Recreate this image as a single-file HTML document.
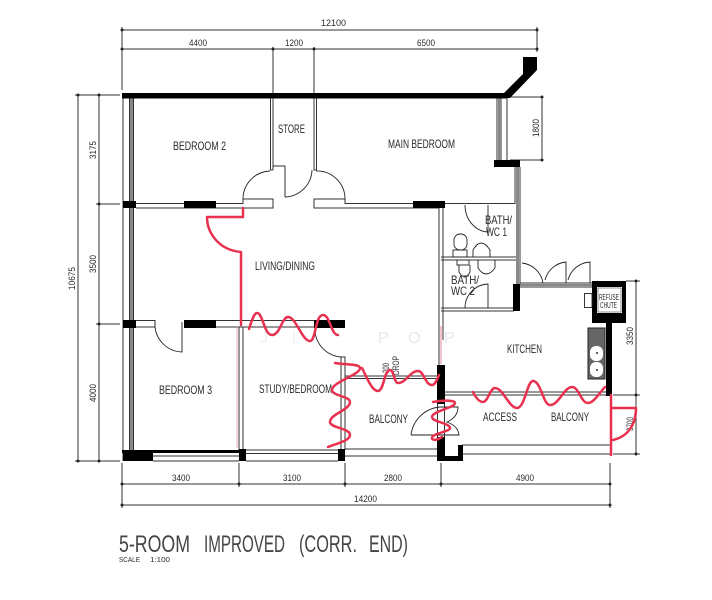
<!DOCTYPE html>
<html><head><meta charset="utf-8"><style>
html,body{margin:0;padding:0;background:#fff}
svg{display:block}
text{font-family:"Liberation Sans",sans-serif;fill:#2a2a2a}
.d{font-size:9.500px}
.l{font-size:12px}
</style></head><body>
<svg width="712" height="600" viewBox="0 0 712 600" xmlns="http://www.w3.org/2000/svg">
<!-- dimensions -->
<g stroke="#333" stroke-width="1" fill="none">
<path d="M122 30H537M122 49H537M122 27V90M273 47V94M314 47V94M537 27V52"/>
<path d="M78 95V461M99 95V461M75 95H120M75 461H120M96 204H120M96 324H120"/>
<path d="M122 484H610M122 505H610M122 463V508M239 463V487M345 463V487M441 463V487M610 463V508"/>
<path d="M510 97H543M510 160H543M542 97V160"/>
<path d="M626 281H640M636 281V454M613 395H640M613 454H640"/>
</g>
<g fill="#222">
<circle cx="122" cy="30" r="1.500"/><circle cx="537" cy="30" r="1.500"/><circle cx="122" cy="49" r="1.500"/><circle cx="273" cy="49" r="1.500"/><circle cx="314" cy="49" r="1.500"/><circle cx="537" cy="49" r="1.500"/>
<circle cx="78" cy="95" r="1.500"/><circle cx="99" cy="95" r="1.500"/><circle cx="99" cy="204" r="1.500"/><circle cx="99" cy="324" r="1.500"/><circle cx="78" cy="461" r="1.500"/><circle cx="99" cy="461" r="1.500"/>
<circle cx="122" cy="484" r="1.500"/><circle cx="239" cy="484" r="1.500"/><circle cx="345" cy="484" r="1.500"/><circle cx="441" cy="484" r="1.500"/><circle cx="610" cy="484" r="1.500"/><circle cx="122" cy="505" r="1.500"/><circle cx="610" cy="505" r="1.500"/>
<circle cx="542" cy="97" r="1.500"/><circle cx="542" cy="160" r="1.500"/><circle cx="636" cy="281" r="1.500"/><circle cx="636" cy="395" r="1.500"/><circle cx="636" cy="454" r="1.500"/>
</g>
<!-- walls: grey/double -->
<g stroke="#333" stroke-width="1" fill="none">
<path d="M123 98V461"/>
<path d="M129.500 98V450M133.500 98V450"/>
<path d="M136 203.500H243V199H273V208H136"/>
<path d="M439 208H314V199H345V203.500H515"/>
<path d="M270.500 98V170H273M273 98V170M314 98V170H316.500M316.500 98V170M273 166H285V197"/>
<path d="M136 320.500H155V327H136M216 320.500H345M216 327H345"/>
<path d="M239 327V450M243 327V450"/>
<path d="M341 357H345V450M341 357V450"/>
<path d="M497 98V160M501 98V160M507 98V160"/>
<path d="M515 167V204M520 167V285"/>
<path d="M439 208V365M443 208V340"/>
<path d="M441 257H516M441 260H516M441 308H514M441 311H514"/>
<path d="M520 283H592M520 287H592"/>
<path d="M443 392H606M443 395H606"/>
<path d="M345 376H438M345 378.500H438"/>
<path d="M345 449H438M345 456H438"/>
<path d="M462 445H610M462 454H610"/>
<path d="M246 450H338M246 453.500H338M246 461H338M153 461H239"/>
<path d="M437.500 404V437M444.500 404V437"/>
</g>
<path d="M153 456H239" stroke="#777" stroke-width="1.500"/>
<g fill="#888"><rect x="130" y="98" width="3" height="352"/><rect x="498" y="98" width="3" height="62"/><rect x="516" y="167" width="3" height="117"/><rect x="520" y="284" width="72" height="2"/></g>
<!-- black -->
<g fill="#000">
<rect x="122" y="93" width="385" height="5.500"/>
<polygon points="504,93 523,74 523,57 537,57 537,70 510,98 504,98"/>
<rect x="494" y="160" width="26" height="7"/>
<rect x="123" y="201" width="13" height="7"/><rect x="184" y="201" width="32" height="7"/><rect x="413" y="201" width="32" height="7"/>
<rect x="123" y="320" width="13" height="8"/><rect x="184" y="320" width="32" height="8"/><rect x="314" y="320" width="31" height="8"/>
<rect x="122" y="450" width="121" height="3"/><rect x="123" y="450" width="30" height="11"/>
<rect x="239" y="449" width="7" height="12"/><rect x="338" y="449" width="7" height="12"/>
<rect x="513" y="284" width="7" height="27"/>
<rect x="592" y="281" width="34" height="42"/>
<rect x="606" y="323" width="6" height="73"/>
<rect x="437" y="365" width="8" height="39"/>
<rect x="437" y="437" width="8" height="24"/>
<rect x="437" y="456" width="26" height="5"/>
<rect x="458" y="445" width="5" height="16"/>
</g>
<rect x="597" y="287" width="25" height="26" fill="#fff"/>
<!-- doors -->
<g stroke="#222" stroke-width="0.900" fill="none">
<path d="M243 199A28 28 0 0 1 270 171"/>
<path d="M285 197A28 28 0 0 0 312 170"/>
<path d="M316 171A28 28 0 0 1 345 199"/>
<path d="M155 322A28 28 0 0 0 182 352V322"/>
<path d="M315 330A28 28 0 0 0 342 357"/>
<path d="M465 205A24 27 0 0 0 488 232V205"/>
<path d="M465 308A24 24 0 0 1 488 284V308"/>
<path d="M522 263A24 24 0 0 1 543 283M545 280A24 24 0 0 1 566 262V283M568 280A24 24 0 0 1 590 262V283"/>
<path d="M411 435A32 32 0 0 1 440 407H458Q458 417 447 422Q458 426 459 435H411"/>
<!-- toilets -->
<rect x="454" y="234" width="13" height="16" rx="6"/><rect x="453" y="250" width="14" height="7"/>
<rect x="457" y="260" width="12" height="5"/><path d="M459 265V272Q465 282 470 272V265"/>
<path d="M473 257V250Q481 236 490 250V257"/><path d="M478 260V268Q486 280 495 268V260"/>
<rect x="584.500" y="293.500" width="7.500" height="14"/>
<path d="M598 288H621V312H598Z" stroke-width="0.500"/>
</g>
<g>
<rect x="588" y="328" width="17" height="51" fill="#666" stroke="#222"/>
<rect x="590" y="346" width="13" height="15" rx="6" fill="#fff"/>
<rect x="590" y="362" width="13" height="15" rx="6" fill="#fff"/>
<circle cx="597" cy="353" r="1" fill="#333"/><circle cx="597" cy="370" r="1" fill="#333"/>
</g>
<!-- pink -->
<path d="M237 327V448" stroke="#eab0ba" stroke-width="1" fill="none"/>
<path d="M441 326V364" stroke="#e88a9c" stroke-width="1" fill="none"/>
<!-- watermark -->
<g style="font-size:16px"><text x="378" y="343" style="fill:#e6e9eb">P</text><text x="408" y="343" style="fill:#e6e9eb">O</text><text x="444" y="343" style="fill:#e6e9eb">P</text><text x="260" y="343" style="fill:#eef0f2">J</text><text x="292" y="343" style="fill:#eef0f2">L</text></g>
<!-- dimension text -->
<g>
<text class="d" x="321" y="26" textLength="25" lengthAdjust="spacingAndGlyphs">12100</text>
<text class="d" x="189" y="46" textLength="18" lengthAdjust="spacingAndGlyphs">4400</text>
<text class="d" x="285" y="46" textLength="18" lengthAdjust="spacingAndGlyphs">1200</text>
<text class="d" x="417" y="46" textLength="18" lengthAdjust="spacingAndGlyphs">6500</text>
<text class="d" x="172" y="481" textLength="18" lengthAdjust="spacingAndGlyphs">3400</text>
<text class="d" x="283" y="481" textLength="18" lengthAdjust="spacingAndGlyphs">3100</text>
<text class="d" x="384" y="481" textLength="18" lengthAdjust="spacingAndGlyphs">2800</text>
<text class="d" x="516" y="481" textLength="18" lengthAdjust="spacingAndGlyphs">4900</text>
<text class="d" x="354" y="502" textLength="23" lengthAdjust="spacingAndGlyphs">14200</text>
<text class="d" transform="translate(96,159) rotate(-90)" textLength="18" lengthAdjust="spacingAndGlyphs">3175</text>
<text class="d" transform="translate(96,273) rotate(-90)" textLength="18" lengthAdjust="spacingAndGlyphs">3500</text>
<text class="d" transform="translate(96,402) rotate(-90)" textLength="18" lengthAdjust="spacingAndGlyphs">4000</text>
<text class="d" transform="translate(75,290) rotate(-90)" textLength="23" lengthAdjust="spacingAndGlyphs">10675</text>
<text class="d" transform="translate(539,137) rotate(-90)" textLength="18" lengthAdjust="spacingAndGlyphs">1800</text>
<text class="d" transform="translate(633,345) rotate(-90)" textLength="18" lengthAdjust="spacingAndGlyphs">3350</text>
<text class="d" transform="translate(633,431) rotate(-90)" textLength="14" lengthAdjust="spacingAndGlyphs">3700</text>
<text class="d" transform="translate(389,373) rotate(-90)" textLength="10" lengthAdjust="spacingAndGlyphs">200</text>
<text class="d" transform="translate(399,375) rotate(-90)" textLength="19" lengthAdjust="spacingAndGlyphs">DROP</text>
</g>
<!-- room labels -->
<text class="l" x="173" y="150" textLength="53" lengthAdjust="spacingAndGlyphs">BEDROOM 2</text>
<text class="l" x="278" y="133" textLength="27" lengthAdjust="spacingAndGlyphs">STORE</text>
<text class="l" x="388" y="148" textLength="67" lengthAdjust="spacingAndGlyphs">MAIN BEDROOM</text>
<text class="l" x="255" y="270" textLength="60" lengthAdjust="spacingAndGlyphs">LIVING/DINING</text>
<text class="l" x="159" y="394" textLength="53" lengthAdjust="spacingAndGlyphs">BEDROOM 3</text>
<text class="l" x="259" y="393" textLength="73" lengthAdjust="spacingAndGlyphs">STUDY/BEDROOM</text>
<text class="l" x="369" y="423" textLength="39" lengthAdjust="spacingAndGlyphs">BALCONY</text>
<text class="l" x="483" y="421" textLength="34" lengthAdjust="spacingAndGlyphs">ACCESS</text>
<text class="l" x="551" y="421" textLength="38" lengthAdjust="spacingAndGlyphs">BALCONY</text>
<text class="l" x="507" y="353" textLength="35" lengthAdjust="spacingAndGlyphs">KITCHEN</text>
<text class="l" x="485" y="224" textLength="27" lengthAdjust="spacingAndGlyphs">BATH/</text>
<text class="l" x="486" y="236" textLength="21" lengthAdjust="spacingAndGlyphs">WC 1</text>
<text class="l" x="451" y="284" textLength="28" lengthAdjust="spacingAndGlyphs">BATH/</text>
<text class="l" x="451" y="295" textLength="24" lengthAdjust="spacingAndGlyphs">WC 2</text>
<text style="font-size:8px" x="599" y="300" textLength="20" lengthAdjust="spacingAndGlyphs">REFUSE</text>
<text style="font-size:8px" x="600" y="308" textLength="17" lengthAdjust="spacingAndGlyphs">CHUTE</text>
<g style="font-size:24px">
<text x="119" y="552" style="fill:#444" textLength="71" lengthAdjust="spacingAndGlyphs">5-ROOM</text>
<text x="204" y="552" style="fill:#444" textLength="81" lengthAdjust="spacingAndGlyphs">IMPROVED</text>
<text x="299" y="552" style="fill:#444" textLength="58" lengthAdjust="spacingAndGlyphs">(CORR.</text>
<text x="369" y="552" style="fill:#444" textLength="39" lengthAdjust="spacingAndGlyphs">END)</text>
</g>
<text x="119" y="562" style="font-size:7.500px" textLength="21" lengthAdjust="spacingAndGlyphs">SCALE</text>
<text x="150" y="562" style="font-size:7.500px" textLength="20" lengthAdjust="spacingAndGlyphs">1:100</text>
<!-- red markup -->
<g stroke="#e8304f" stroke-width="2.500" fill="none" stroke-linecap="round" stroke-linejoin="round">
<path d="M243 208V217H207C207 232 218 250 241 252V325"/>
<path d="M249 329C252 320 254 313 257 313C263 313 264 335 272 335C280 335 282 317 288 317C296 317 302 341 310 341C316 341 315 315 323 315C330 315 331 335 338 335"/>
<path d="M335 363C348 365 360 364 360 368C360 375 332 382 332 390C332 396 350 396 350 402C350 410 330 414 330 422C330 428 350 428 350 435C350 441 335 444 328 447"/>
<path d="M362 368C367 378 372 391 378 391C384 391 384 370 390 370C394 370 394 383 398 383C406 383 410 371 418 371C424 371 425 385 432 385C435 385 437 380 439 375"/>
<path d="M433 402C442 400 455 400 455 403C455 408 432 411 432 417C432 422 450 423 450 428C450 432 432 433 432 438C432 441 438 440 442 437"/>
<path d="M473 392C476 398 479 402 483 402C488 402 490 388 495 388C503 388 509 408 517 408C525 408 527 381 533 381C541 381 543 405 550 405C559 405 564 387 572 387C579 387 581 403 588 403C594 403 600 392 605 387"/>
<path d="M611 395V455M611 408H636C636 422 630 436 613 440"/>
</g>
</svg>
</body></html>
